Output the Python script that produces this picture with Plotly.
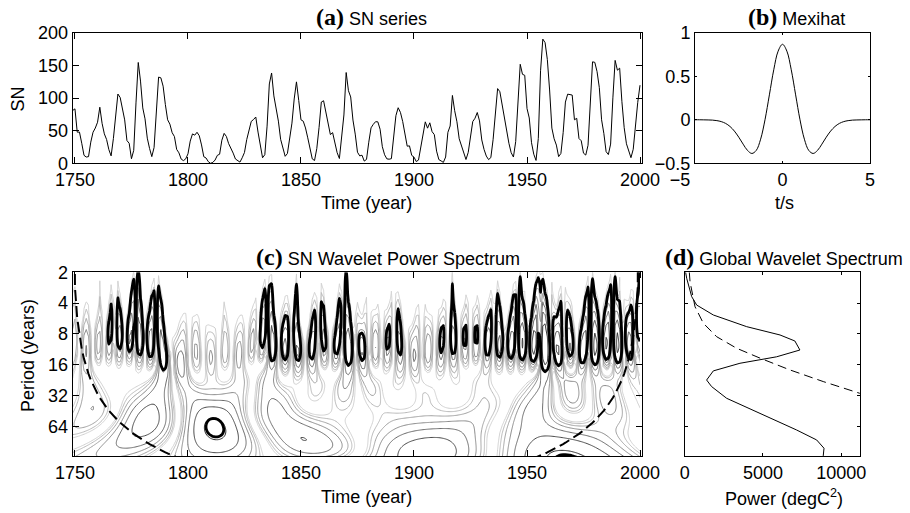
import numpy as np
import plotly.graph_objects as go
from math import gamma

# ---------------- data ----------------
YEARS = list(range(1749, 2001))
SN = [80.9, 83.4, 47.7, 47.8, 30.7, 12.2, 9.6, 10.2, 32.4, 47.6,
      54.0, 62.9, 85.9, 61.2, 45.1, 36.4, 20.9, 11.4, 37.8, 69.8,
      106.1, 100.8, 81.6, 66.5, 34.8, 30.6, 7.0, 19.8, 92.5, 154.4,
      125.9, 84.8, 68.1, 38.5, 22.8, 10.2, 24.1, 82.9, 132.0, 130.9,
      118.1, 89.9, 66.6, 60.0, 46.9, 41.0, 21.3, 16.0, 6.4, 4.1,
      6.8, 14.5, 34.0, 45.0, 43.1, 47.5, 42.2, 28.1, 10.1, 8.1,
      2.5, 0.0, 1.4, 5.0, 12.2, 13.9, 35.4, 45.8, 41.1, 30.1,
      23.9, 15.6, 6.6, 4.0, 1.8, 8.5, 16.6, 36.3, 49.6, 64.2,
      67.0, 70.9, 47.8, 27.5, 8.5, 13.2, 56.9, 121.5, 138.3, 103.2,
      85.7, 64.6, 36.7, 24.2, 10.7, 15.0, 40.1, 61.5, 98.5, 124.7,
      96.3, 66.6, 64.5, 54.1, 39.0, 20.6, 6.7, 4.3, 22.7, 54.8,
      93.8, 95.8, 77.2, 59.1, 44.0, 47.0, 30.5, 16.3, 7.3, 37.6,
      74.0, 139.0, 111.2, 101.6, 66.2, 44.7, 17.0, 11.3, 12.4, 3.4,
      6.0, 32.3, 54.3, 59.7, 63.7, 63.5, 52.2, 25.4, 13.1, 6.8,
      6.3, 7.1, 35.6, 73.0, 85.1, 78.0, 64.0, 41.8, 26.2, 26.7,
      12.1, 9.5, 2.7, 5.0, 24.4, 42.0, 63.5, 53.8, 62.0, 48.5,
      43.9, 18.6, 5.7, 3.6, 1.4, 9.6, 47.4, 57.1, 103.9, 80.6,
      63.6, 37.6, 26.1, 14.2, 5.8, 16.7, 44.3, 63.9, 69.0, 77.8,
      64.9, 35.7, 21.2, 11.1, 5.7, 8.7, 36.1, 79.7, 114.4, 109.6,
      88.8, 67.8, 47.5, 30.6, 16.3, 9.6, 33.2, 92.6, 151.6, 136.3,
      134.7, 83.9, 69.4, 31.5, 13.9, 4.4, 38.0, 141.7, 190.2, 184.8,
      159.0, 112.3, 53.9, 37.6, 27.9, 10.2, 15.1, 47.0, 93.8, 105.9,
      105.5, 104.5, 66.6, 68.9, 38.0, 34.5, 15.5, 12.6, 27.5, 92.5,
      155.4, 154.6, 140.4, 115.9, 66.6, 45.9, 17.9, 13.4, 29.4, 100.2,
      157.6, 142.6, 145.7, 94.3, 54.6, 29.9, 17.5, 8.6, 21.5, 64.3,
      93.3, 119.6]

MEXHAT_T = [-5.0, -4.75, -4.5, -4.25, -4.0, -3.75, -3.5, -3.25, -3.0, -2.75,
            -2.5, -2.25, -2.0, -1.75, -1.5, -1.25, -1.0, -0.75, -0.5, -0.25,
            0.0, 0.25, 0.5, 0.75, 1.0, 1.25, 1.5, 1.75, 2.0, 2.25,
            2.5, 2.75, 3.0, 3.25, 3.5, 3.75, 4.0, 4.25, 4.5, 4.75, 5.0]
MEXHAT_PSI = [0.000, 0.000, -0.001, -0.002, -0.004, -0.010, -0.021, -0.042, -0.077, -0.130,
              -0.200, -0.280, -0.352, -0.387, -0.352, -0.223, 0.000, 0.286, 0.574, 0.788,
              0.867, 0.788, 0.574, 0.286, 0.000, -0.223, -0.352, -0.387, -0.352, -0.280,
              -0.200, -0.130, -0.077, -0.042, -0.021, -0.010, -0.004, -0.002, -0.001, 0.000, 0.000]

GWS_PERIOD = [2.0, 2.29, 3.46, 4.18, 5.23, 6.80, 8.20, 9.39, 11.5, 13.4,
              15.5, 18.4, 22.6, 26.2, 34.1, 49.6, 69.6, 87.1, 105.0, 124.8]
GWS_POWER = [60, 127, 447, 766, 1830, 3960, 6090, 7040, 7360, 5870,
             3530, 1830, 1400, 1720, 2680, 5020, 7150, 8430, 8900, 8850]

SIG_PERIOD = [2.0, 2.47, 4.34, 6.30, 8.52, 11.06, 13.8, 18.0, 23.4, 30.5]
SIG_POWER = [295, 340, 660, 1190, 2040, 3320, 4810, 6720, 8850, 11190]

XTICKS_TIME = [1750, 1800, 1850, 1900, 1950, 2000]
PERIOD_TICKS = [2, 4, 8, 16, 32, 64]
POWER_TICKS = [0, 5000, 10000]
LAG1 = 0.72      # red-noise lag-1 coefficient for the significance test
CHI95 = 2.996    # 95% chi-square / dof used for the local significance

# ---------------- wavelet transform (Mexican hat = DOG, m=2) ----------------
t = np.array(YEARS, float)
y = np.array(SN, float)
n = len(y)
dt = 1.0
var = np.var(y, ddof=1)
yn = (y - y.mean()) / np.sqrt(var)
m = 2
ff = 2 * np.pi * np.sqrt(2.0 / (2 * m + 1))
s0 = 2 * dt / ff
dj = 1 / 16
pmax = 130.0
J = int(np.ceil(np.log2(pmax / 2) / dj))
scale = s0 * 2 ** (np.arange(J + 1) * dj)
period = ff * scale
base2 = int(np.log2(n) + 0.4999)
N = 2 ** (base2 + 1)
xp = np.concatenate([yn, np.zeros(N - n)])
fx = np.fft.fft(xp)
kpos = np.arange(1, N // 2 + 1) * 2 * np.pi / (N * dt)
k = np.concatenate([[0.0], kpos, -kpos[:(N - 1) // 2][::-1]])
normc = 1 / np.sqrt(gamma(m + 0.5))
wave = np.zeros((len(scale), n))
for j, s in enumerate(scale):
    sk = s * k
    daughter = np.sqrt(2 * np.pi * s / dt) * normc * sk ** m * np.exp(-sk ** 2 / 2)
    wave[j] = np.real(np.fft.ifft(fx * daughter))[:n]
power = wave ** 2
fft_theor = (1 - LAG1 ** 2) / (1 - 2 * LAG1 * np.cos(2 * np.pi * dt / period) + LAG1 ** 2)
signif = fft_theor * CHI95
sig95 = power / signif[:, None]
idx = np.arange(n)
coi = ff / np.sqrt(2) * dt * np.minimum(idx, idx[::-1]).astype(float)
coi[coi == 0] = 1e-5

# ---------------- figure ----------------
W, H = 910, 513
def px(x): return x / W
def py(yv): return 1 - yv / H

FONT = "Liberation Sans, Arial, Helvetica, sans-serif"
fig = go.Figure()

fig.add_trace(go.Scatter(x=YEARS, y=SN, mode="lines", line=dict(color="black", width=1),
                         xaxis="x", yaxis="y", showlegend=False))
fig.add_trace(go.Scatter(x=MEXHAT_T, y=MEXHAT_PSI, mode="lines",
                         line=dict(color="black", width=1, shape="spline", smoothing=1.0),
                         xaxis="x2", yaxis="y2", showlegend=False))

lvl = np.log2(power)
fig.add_trace(go.Contour(x=t, y=period, z=lvl, xaxis="x3", yaxis="y3",
                         contours=dict(start=-2, end=4, size=1, coloring="lines"),
                         zmin=-2, zmax=4,
                         colorscale=[[0, "#d0d0d0"], [0.5, "#8a8a8a"], [1, "#2a2a2a"]],
                         line=dict(width=1, smoothing=0.8), showscale=False, hoverinfo="skip"))
fig.add_trace(go.Contour(x=t, y=period, z=sig95, xaxis="x3", yaxis="y3",
                         contours=dict(start=1, end=1, size=1, coloring="lines"),
                         colorscale=[[0, "black"], [1, "black"]],
                         line=dict(width=2.8, smoothing=0.8), showscale=False, hoverinfo="skip"))
fig.add_trace(go.Scatter(x=t, y=coi, mode="lines", line=dict(color="black", width=2, dash="11px,5px"),
                         xaxis="x3", yaxis="y3", showlegend=False))

fig.add_trace(go.Scatter(x=GWS_POWER, y=GWS_PERIOD, mode="lines", line=dict(color="black", width=1),
                         xaxis="x4", yaxis="y4", showlegend=False))
fig.add_trace(go.Scatter(x=SIG_POWER, y=SIG_PERIOD, mode="lines",
                         line=dict(color="black", width=1, dash="9px,5px"),
                         xaxis="x4", yaxis="y4", showlegend=False))

axbase = dict(showline=True, linecolor="black", linewidth=1, mirror="ticks", ticks="inside",
              showgrid=False, zeroline=False, tickfont=dict(family=FONT, size=18, color="black"),
              tickcolor="black", automargin=False)

tA = (72.7, 641.7)
tB = (695.0, 870.0)
tD = (684.7, 860.0)
vTop = (32.7, 163.3)
vBot = (272.3, 456.0)

FS = "\u2007"
layout = dict(
    width=W, height=H, margin=dict(l=0, r=0, t=0, b=0, pad=0, autoexpand=False),
    paper_bgcolor="white", plot_bgcolor="white", showlegend=False,
    xaxis=dict(axbase, domain=[px(tA[0]), px(tA[1])], range=[1749, 2000.75], tickvals=XTICKS_TIME,
               ticklen=6, anchor="y"),
    yaxis=dict(axbase, domain=[py(vTop[1]), py(vTop[0])], range=[0, 200], tickvals=[0, 50, 100, 150, 200],
               ticklen=6, anchor="x"),
    xaxis2=dict(axbase, domain=[px(tB[0]), px(tB[1])], range=[-5, 5], tickvals=[-5, 0, 5],
                ticktext=["\u22125" + FS * 3, "0", "5"], ticklen=2, anchor="y2"),
    yaxis2=dict(axbase, domain=[py(vTop[1]), py(vTop[0])], range=[-0.5, 1], tickvals=[-0.5, 0, 0.5, 1],
                ticktext=["\u22120.5", "0", "0.5", "1"], ticklen=2, anchor="x2"),
    xaxis3=dict(axbase, domain=[px(tA[0]), px(tA[1])], range=[1749, 2000.75], tickvals=XTICKS_TIME,
                ticklen=6, anchor="y3"),
    yaxis3=dict(axbase, domain=[py(vBot[1]), py(vBot[0])], type="log",
                range=[np.log10(125), np.log10(2)], tickvals=PERIOD_TICKS, ticktext=[str(v) for v in PERIOD_TICKS],
                ticklen=6, anchor="x3"),
    xaxis4=dict(axbase, domain=[px(tD[0]), px(tD[1])], range=[0, 11200], tickvals=POWER_TICKS,
                ticktext=[str(v) for v in POWER_TICKS], ticklen=3, anchor="y4"),
    yaxis4=dict(axbase, domain=[py(vBot[1]), py(vBot[0])], type="log",
                range=[np.log10(125), np.log10(2)], tickvals=PERIOD_TICKS, showticklabels=False,
                ticklen=3, anchor="x4"),
)
fig.update_layout(**layout)

def ann(text, x, yv, size=18, angle=0):
    fig.add_annotation(text=text, x=px(x), y=py(yv), xref="paper", yref="paper", showarrow=False,
                       xanchor="center", yanchor="middle", textangle=angle,
                       font=dict(family=FONT, size=size, color="black"))

def ttl(letter, rest):
    return ('<b><span style="font-family:Liberation Serif, Times New Roman, serif;font-size:24px">(' + letter +
            ')</span></b> ' + rest)

ann(ttl("a", "SN series"), 371, 17)
ann(ttl("b", "Mexihat"), 796, 17)
ann(ttl("c", "SN Wavelet Power Spectrum"), 387.5, 257)
ann(ttl("d", "Global Wavelet Spectrum"), 784, 257)
ann("SN", 17.5, 99, angle=-90)
ann("Time (year)", 366, 203)
ann("t/s", 784, 203)
ann("Period (years)", 28, 356, angle=-90)
ann("Time (year)", 366, 497)
ann("Power (degC<sup>2</sup>)", 784, 497)

fig.write_html("out.html", config={"displayModeBar": False},
               post_script="document.body.style.margin='0px';")
